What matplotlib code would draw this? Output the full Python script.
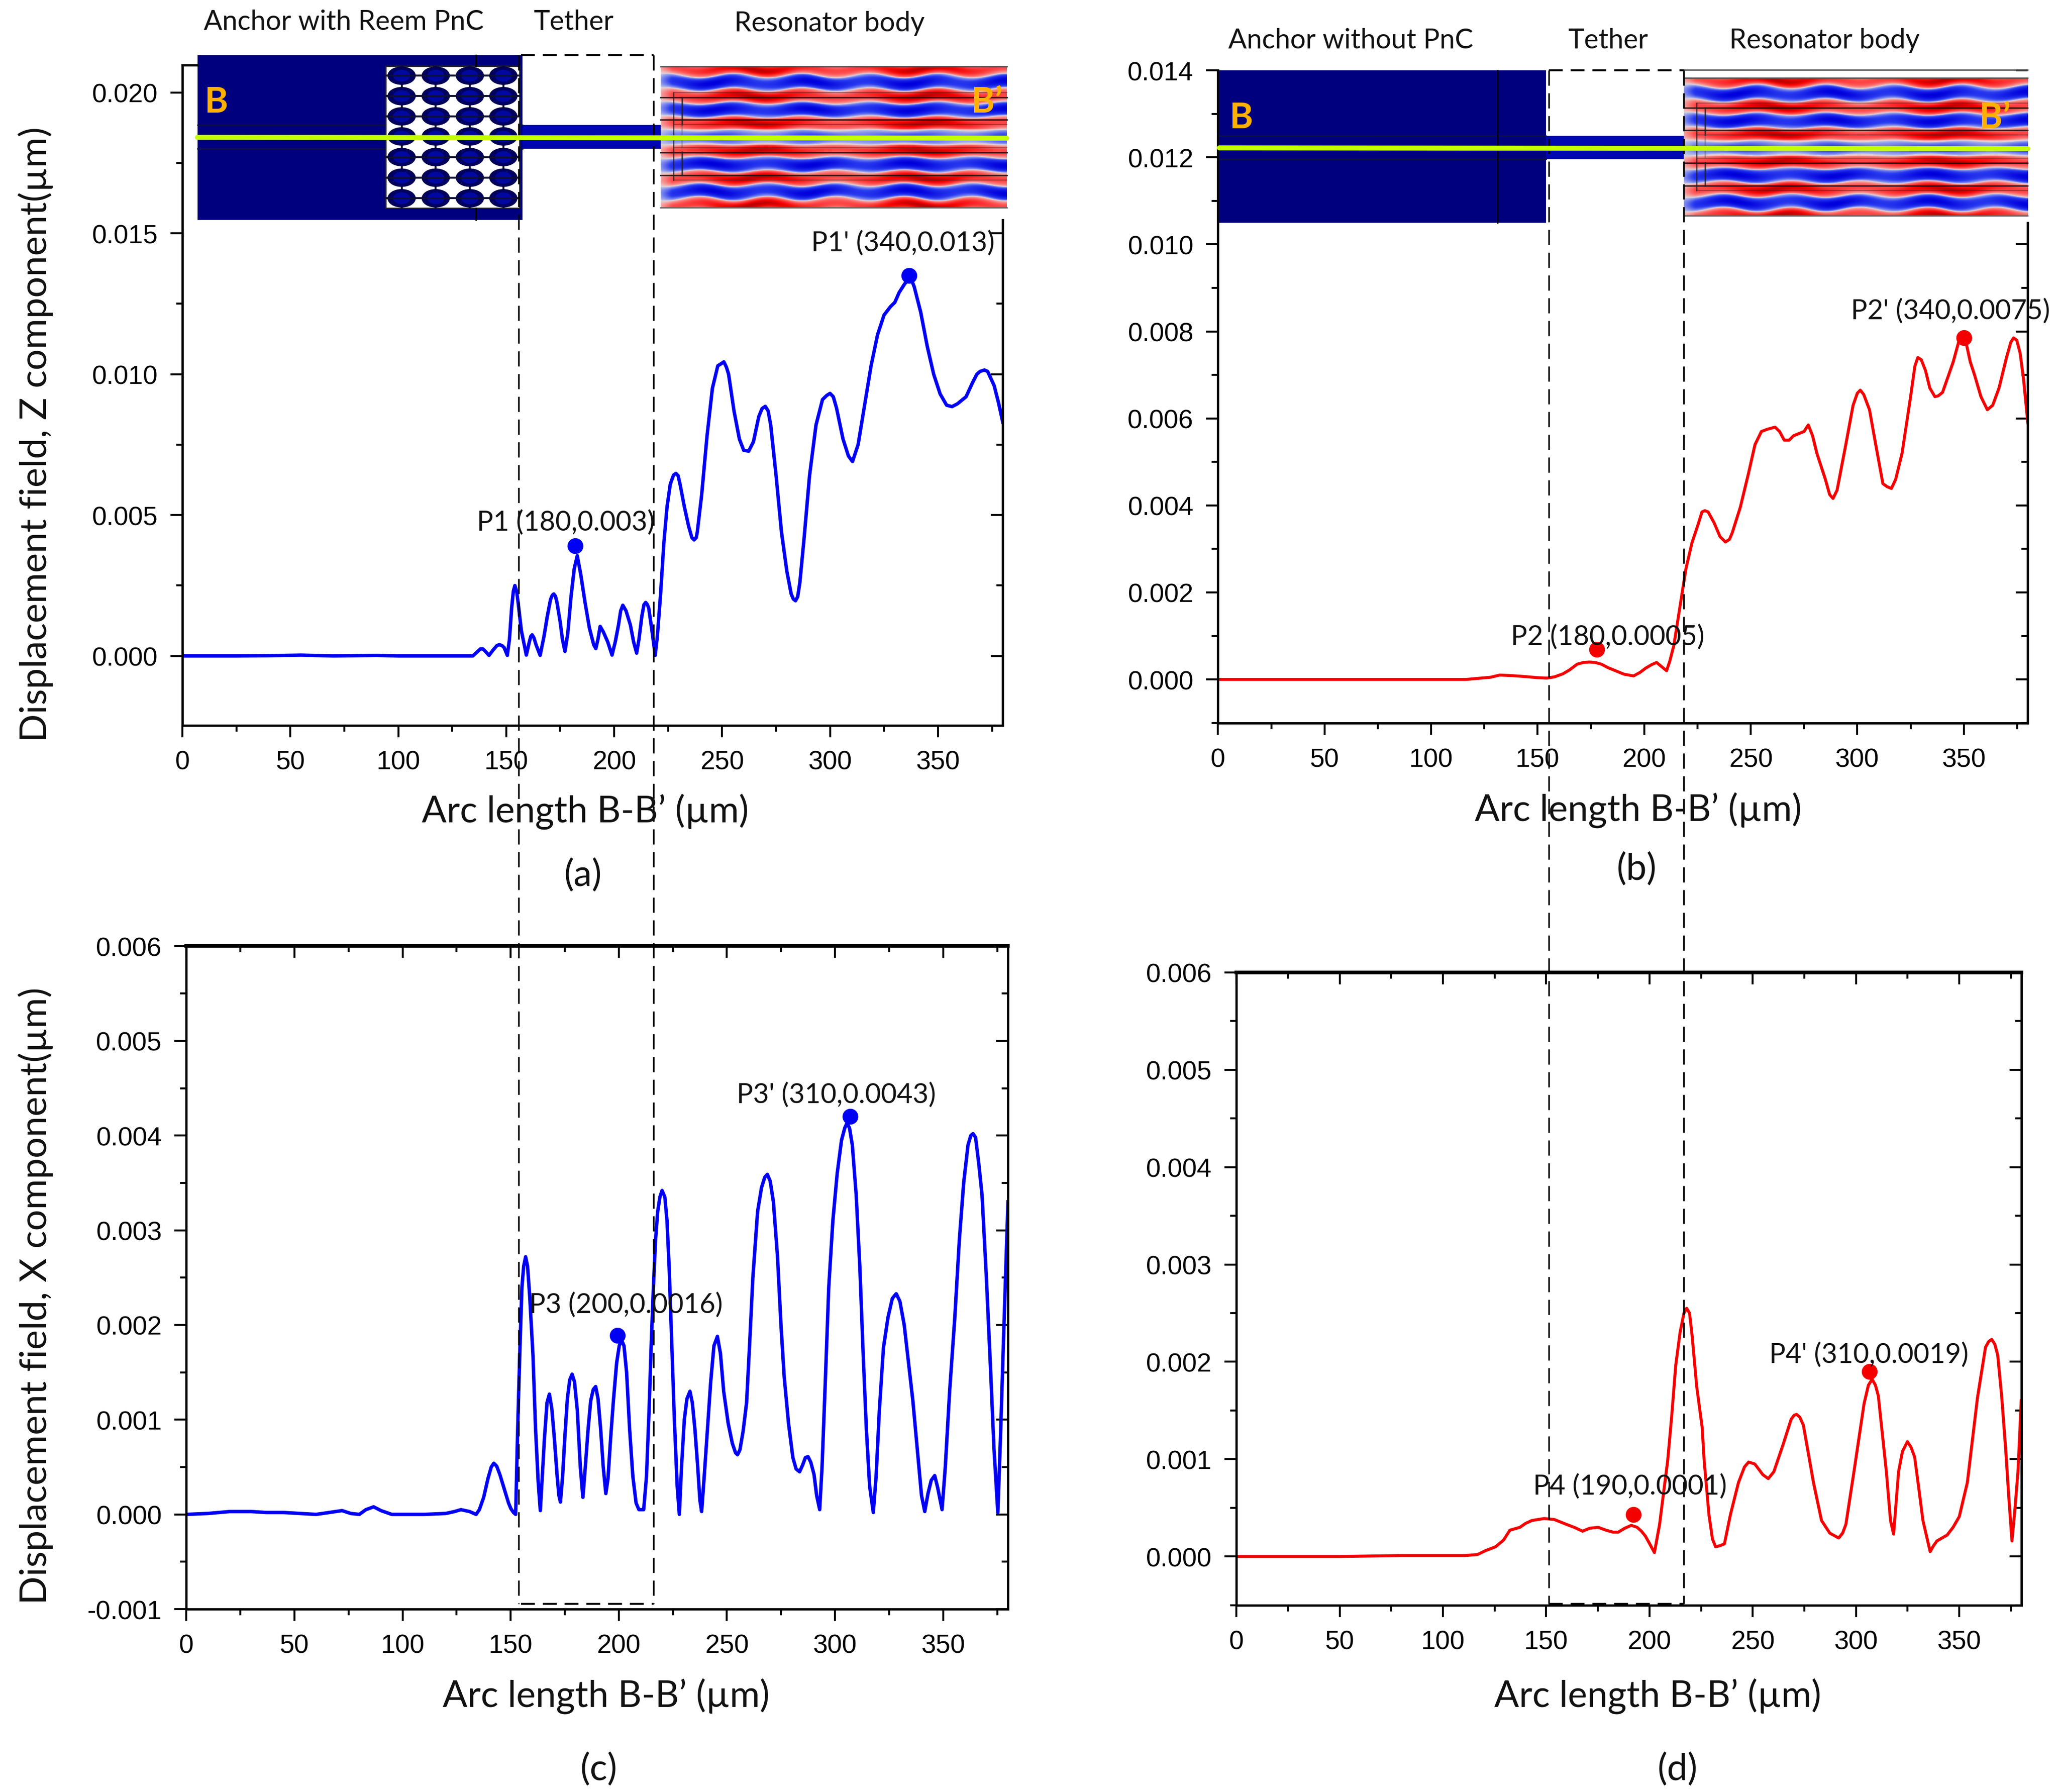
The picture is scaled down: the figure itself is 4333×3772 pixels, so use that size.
import numpy as np
import matplotlib
matplotlib.use("Agg")
import matplotlib.pyplot as plt
from matplotlib.colors import LinearSegmentedColormap
from matplotlib.patches import Ellipse, Rectangle
from matplotlib.ticker import MultipleLocator, FormatStrFormatter

# Panel (a) Z component, with PnC: (arc length, displacement)
curve_a = [(0, 0), (10, 0), (25, 0), (40, .00001), (55, .00003), (70, 0), (90, .00002), (100, 0), (120, 0), (134.5, 0),
           (136.5, .00014), (138, .00025), (139.2, .00025), (140.5, .00015), (142, .00002), (144, .00022), (145.7, .00037),
           (146.8, .0004), (148, .00037), (149, .0003), (150.5, .00002), (151.5, .0006), (152.5, .0017), (153.3, .0023),
           (154, .0025), (154.8, .0023), (155.5, .0019), (157, .0009), (159.3, .00003), (160.7, .0005), (161.4, .0007),
           (162, .00075), (162.8, .00065), (163.8, .0004), (165.7, .00002), (167.5, .0007), (169, .0014), (170.5, .0020),
           (171.3, .00215), (172, .0022), (172.8, .00212), (173.5, .0019), (175, .0012), (176, .0006), (177.2, .00016),
           (178.5, .0008), (180, .0021), (181.5, .0031), (182.9, .00356), (184.5, .0029), (186.5, .0019), (188.5, .0010),
           (190.5, .0004), (191.5, .00026), (192.5, .0006), (193.5, .00105), (195, .00085), (197, .0005), (199, .00003),
           (200.5, .0005), (202, .0011), (203, .0016), (204, .0018), (205.5, .0016), (207.5, .0011), (209, .0005),
           (210.4, .0001), (211.5, .0006), (212.8, .0014), (213.8, .00182), (214.6, .0019), (215.4, .00182), (216, .0017),
           (217.5, .0009), (219, .00002), (220, .0007), (221.5, .0022), (223, .0040), (224.5, .0053), (226, .0061),
           (227.5, .00642), (228.6, .00648), (229.6, .0064), (230.5, .0061), (232.5, .0053), (234.5, .0046), (236, .0042),
           (237, .00412), (238, .0042), (238.5, .0044), (240.5, .0057), (243, .0078), (245.5, .0095), (248, .0103),
           (249.5, .01037), (250.8, .01044), (252, .01025), (253, .0100), (255.5, .0087), (258, .0077), (260, .0073),
           (262.3, .00727), (264.5, .0076), (267, .0085), (268.5, .00878), (270, .00886), (271.3, .0087), (272.5, .0082),
           (275, .0064), (277.5, .0044), (280, .0030), (282, .0022), (283, .00202), (284, .00196), (285, .0021), (286, .0026),
           (288, .0042), (290.5, .0064), (293.5, .0082), (296.5, .0091), (298.5, .00925), (300, .00932), (301.5, .0092),
           (303, .0088), (306, .0077), (308.5, .0071), (310.4, .0069), (313, .0075), (316, .0089), (319, .0103), (322, .0114),
           (325, .0121), (328, .0124), (330, .01255), (332, .0129), (334.5, .0132), (336.6, .0134), (338, .0133), (339, .0131),
           (342, .0122), (345, .0110), (348, .0100), (351, .0093), (354, .0089), (356.5, .00885), (359, .00895), (363, .0092),
           (366, .0097), (368, .01), (369.5, .0101), (371.5, .01015), (373, .0101), (376, .0096), (378, .0090), (380, .0083)]

# Panel (b) Z component, without PnC
curve_b = [(0, 0), (50, 0), (100, 0), (116.5, 0), (127.9, .00005), (130.5, .00008), (132.2, .0001), (137, .00009), (143, .00007),
           (150, .00004), (154.3, .00003), (158, .00006), (161.9, .00013), (165, .00022), (168.5, .00035), (171.5, .00039),
           (174.2, .0004), (177, .00039), (179.9, .00035), (183, .00027), (186.5, .0002), (190.5, .00012), (195, .00008),
           (198, .00016), (200.7, .00026), (203.5, .00034), (205.8, .00039), (208, .0003), (210.5, .0002), (212, .00042),
           (213.9, .00078), (216.7, .00165), (219.6, .00255), (222.4, .00314), (225.2, .00355), (227.1, .00385), (228.5, .00388),
           (230, .00385), (232.8, .0036), (235.6, .00328), (238.1, .00316), (240, .00322), (241.3, .00337), (245.1, .00396),
           (248.9, .00473), (252, .0054), (255, .0057), (257.7, .00575), (261.4, .0058), (263.5, .0057), (265.7, .0055),
           (268, .0055), (270, .0056), (275, .0057), (277, .00585), (279, .0056), (281, .0052), (285, .0046), (287, .00425),
           (288.6, .00416), (290.5, .00435), (294.6, .0054), (298, .0063), (300, .00658), (301.4, .00665), (303, .00655),
           (305.7, .0062), (309, .0053), (312, .0045), (314, .00443), (316, .00439), (318, .0046), (321, .0052), (325, .0065),
           (327, .0072), (328.4, .0074), (330, .00735), (332, .0071), (334, .0067), (336.4, .0065), (338, .00652), (340, .0066),
           (345, .0073), (347.5, .00775), (349.3, .0079), (351, .00775), (353, .0073), (355, .0070), (358, .0065), (361, .0062),
           (363.5, .0063), (366.5, .0067), (370, .0074), (372, .00775), (373.3, .00785), (374.8, .0078), (376.4, .0075),
           (378, .0069), (380, .0059)]

# Panel (c) X component, with PnC
curve_c = [(0, 0), (10, .00001), (20, .00003), (30, .00003), (37, .00002), (45, .00002), (60, 0), (66, .00002), (72, .00004),
           (76, .00001), (80, 0), (83, .00005), (86.6, .00008), (90, .00004), (95, 0), (110, 0), (120, .00001), (124, .00003),
           (127, .00005), (131, .00003), (134, 0), (135.5, .00005), (137.5, .00018), (139.5, .00038), (141, .0005), (142.2, .00054),
           (143.5, .00051), (145, .00042), (147, .00027), (149, .00012), (150.1, .00006), (151.3, .00002), (152.3, 0), (153, .0007),
           (153.7, .0013), (154.4, .00185), (155.2, .0024), (156, .00262), (156.9, .00272), (157.8, .00262), (158.8, .0023),
           (160.3, .00168), (161.5, .0009), (162.7, .00035), (163.7, .00004), (164.6, .0004), (165.6, .0008), (166.8, .00118),
           (167.9, .00127), (169, .00112), (170.2, .0008), (171.5, .0004), (172.3, .0002), (173, .00013), (174, .0004), (175, .0008),
           (176.2, .00122), (177.3, .00142), (178.4, .00148), (179.5, .0014), (180.8, .0011), (182.2, .0005), (183.4, .00018),
           (184.5, .0005), (185.8, .0009), (187, .0012), (188.2, .00132), (189.3, .00135), (190.4, .00122), (191.6, .0009),
           (192.8, .0005), (194, .00022), (195, .00038), (196.2, .0008), (197.5, .0012), (199, .0016), (200.2, .00178), (201.3, .00184),
           (202.4, .00178), (203.6, .0015), (205, .0009), (206.5, .0004), (208, .00012), (209.3, .00005), (211.5, .00005), (212.8, .0004),
           (214, .0011), (215, .0018), (216, .0024), (217, .0029), (218, .0032), (219, .00335), (220, .00342), (221.3, .00335),
           (222.3, .0031), (223.3, .0026), (224.5, .0018), (225.7, .001), (227, .0003), (228, 0), (229, .0005), (230.3, .001),
           (231.5, .00122), (232.9, .0013), (234, .00118), (235.2, .0009), (236.5, .0005), (237.5, .00015), (238.3, .00003),
           (239.5, .0004), (241, .0009), (242.5, .0014), (244, .00178), (245.6, .00188), (247, .0017), (248.5, .0013), (250.6, .00096),
           (252.5, .00075), (254, .00065), (254.9, .00063), (256, .00068), (257.5, .00088), (259.1, .00118), (260.5, .0018), (262, .0025),
           (264.2, .0032), (266, .00345), (267.5, .00356), (268.7, .00359), (270, .00352), (271.5, .0033), (273.4, .00272), (275, .002),
           (276.5, .00145), (278.5, .00096), (280.5, .0006), (282, .00048), (283.6, .00045), (285, .00052), (286.3, .0006), (287.5, .00061),
           (288.8, .00055), (290.3, .00042), (291.5, .0002), (292.9, .00005), (294, .0005), (295.5, .0014), (297.1, .0024), (299, .0031),
           (301, .0036), (303, .00395), (304.5, .00408), (305.5, .00413), (306.7, .00408), (308, .0039), (309.8, .00337), (311.5, .0026),
           (313, .0017), (314.5, .0009), (316, .0003), (317.7, .00002), (319, .0004), (320.5, .0011), (322.4, .00176), (324.5, .00208),
           (326.5, .00228), (328.3, .00233), (330, .00225), (332, .002), (334, .0016), (336, .0012), (338, .0007), (340, .0002),
           (341.5, .00003), (343, .00022), (344.5, .00036), (346.1, .00041), (347.5, .00028), (349.5, .00005), (351, .0005), (353, .0013),
           (355.4, .00208), (357.5, .0029), (359.5, .0035), (361.5, .0039), (362.8, .004), (363.8, .00402), (365, .00398), (366.5, .0037),
           (368, .00337), (370, .0025), (372, .0015), (373.5, .0007), (375.3, .00002), (376.5, .0008), (378, .0019), (380, .0033)]

# Panel (d) X component, without PnC
curve_d = [(0, 0), (50, 0), (80, .00001), (100, .00001), (110.8, .00001), (116.7, .00002), (120.6, .00006), (125.5, .0001),
           (129.4, .00017), (132.4, .00027), (137.3, .0003), (140, .00034), (143.1, .00037), (149, .00039), (153.9, .00038),
           (159.8, .00033), (163.5, .0003), (167.6, .00026), (171, .00029), (175.1, .0003), (179, .00027), (182.4, .00025),
           (184.9, .00025), (188, .00029), (191.2, .00032), (194, .0003), (196.1, .00026), (198, .00021), (199.6, .00015),
           (202.4, .00004), (204.9, .00033), (206.8, .00065), (208.8, .00098), (210.8, .00145), (212.7, .00196), (214.8, .0023),
           (216.7, .0025), (218, .00255), (219.4, .0025), (220.6, .00228), (222.9, .00174), (225.5, .00133), (226.5, .00098),
           (228.8, .00043), (230.5, .00018), (232, .0001), (234, .00011), (236.3, .00013), (239.2, .00043), (243.1, .00076),
           (246, .00092), (248, .00097), (251, .00095), (254.9, .00084), (257.5, .0008), (260.2, .00087), (264.7, .00115),
           (268.6, .00141), (270, .00145), (271.2, .00146), (272.8, .00143), (274.5, .00135), (277, .00105), (279.4, .00076),
           (283.3, .00037), (287.3, .00024), (291.6, .00019), (293.5, .00024), (295.1, .00033), (299, .00087), (303.9, .00157),
           (306, .00176), (307.8, .00182), (309.4, .00176), (310.8, .00165), (312.8, .00125), (314.7, .00087), (316.7, .00037),
           (318.2, .00023), (319.4, .00055), (320.6, .00087), (322.5, .00108), (324.9, .00118), (326.7, .00112), (328.4, .00102),
           (330.4, .0007), (332.4, .00037), (335.9, .00005), (337.5, .00011), (339.2, .00016), (344.1, .00022), (347, .0003),
           (350, .00041), (353.9, .00076), (358.8, .00163), (362.7, .00215), (364.3, .00221), (365.7, .00223), (367.2, .00218),
           (368.6, .00207), (370.5, .00165), (372.5, .00109), (374, .0006), (375.5, .00016), (377, .0005), (378.4, .00087), (380, .0016)]

# highlighted points and their labels
points_a = [(182, .0039), (336.6, .0135)]
points_b = [(177.7, .00069), (350, .00785)]
points_c = [(199.4, .00189), (307, .0042)]
points_d = [(192.3, .00043), (306.4, .0019)]
xlabel = "Arc length B-B’ (µm)"
ylabel_z = "Displacement field, Z component(µm)"
ylabel_x = "Displacement field, X component(µm)"

W, H = 1568.0, 1365.3
plt.rcParams['font.family'] = ['Liberation Sans', 'DejaVu Sans']
BLUE, RED = '#0000f5', '#f50000'
fig = plt.figure(figsize=(43.33, 37.73), dpi=100, facecolor='white')


def add_panel(l, r, t, b, curve, pts, color, ylim, major, minor, lw, top_ticks=False):
    x, y = zip(*curve)
    ax = fig.add_axes([l / W, 1 - b / H, (r - l) / W, (b - t) / H])
    ax.plot(x, y, color=color, lw=lw, solid_joinstyle='round')
    ax.plot([p[0] for p in pts], [p[1] for p in pts], 'o', color=color, ms=24, mew=0)
    ax.set_xlim(0, 380)
    ax.set_ylim(*ylim)
    ax.xaxis.set_major_locator(MultipleLocator(50))
    ax.xaxis.set_minor_locator(MultipleLocator(25))
    ax.yaxis.set_major_locator(MultipleLocator(major))
    ax.yaxis.set_minor_locator(MultipleLocator(minor))
    ax.yaxis.set_major_formatter(FormatStrFormatter('%.3f'))
    ax.tick_params(axis='both', which='major', length=18, width=3, labelsize=40, pad=19)
    ax.tick_params(axis='both', which='minor', length=9.5, width=3)
    for s in ax.spines.values():
        s.set_linewidth(3.5)
    # mirrored ticks on the right pointing inwards, like Origin does
    sec = ax.secondary_yaxis('right')
    sec.yaxis.set_major_locator(MultipleLocator(major))
    sec.yaxis.set_minor_locator(MultipleLocator(minor))
    sec.tick_params(axis='y', which='major', direction='in', length=18, width=3, labelright=False)
    sec.tick_params(axis='y', which='minor', direction='in', length=9.5, width=3)
    sec.spines['right'].set_visible(False)
    if top_ticks:
        sect = ax.secondary_xaxis('top')
        sect.xaxis.set_major_locator(MultipleLocator(50))
        sect.xaxis.set_minor_locator(MultipleLocator(25))
        sect.tick_params(axis='x', which='major', direction='in', length=18, width=3, labeltop=False)
        sect.tick_params(axis='x', which='minor', direction='in', length=9.5, width=3)
        sect.spines['top'].set_visible(False)
        ax.spines['top'].set_linewidth(5.5)
    return ax


ax_a = add_panel(139, 764, 50, 553, curve_a, points_a, BLUE, (-.00247, .02097), .005, .0025, 5.2)
ax_b = add_panel(928, 1545, 54, 551, curve_b, points_b, RED, (-.001, .014), .002, .001, 4.5)
ax_c = add_panel(142, 768, 721, 1226, curve_c, points_c, BLUE, (-.001, .006), .001, .0005, 5.2, top_ticks=True)
ax_d = add_panel(942, 1540, 741, 1223, curve_d, points_d, RED, (-.0005, .006), .001, .0005, 4.5, top_ticks=True)

ax_a.spines['top'].set_visible(False)
ax_b.spines['top'].set_visible(False)
ax_a.spines['right'].set_bounds(-.00247, .01548)
ax_b.spines['right'].set_bounds(-.001, .0105)

# overlay in picture coordinates for insets, dashed guides and captions
ov = fig.add_axes([0, 0, 1, 1], zorder=10)
ov.patch.set_alpha(0)
ov.axis('off')

field_cmap = LinearSegmentedColormap.from_list('field', [
    (0, '#0000dc'), (.22, '#2a3cf0'), (.42, '#a8b0ea'), (.5, '#dcd8dc'), (.58, '#eec0c0'), (.75, '#ff5a5a'), (.92, '#f50505'),
    (1, '#b00000')])


def resonator(x0, x1, y0, y1, yc):
    # illustration of the mode shape from the FEM picture
    px = np.linspace(x0, x1, 500)
    py = np.linspace(y0, y1, 260)
    X, Y = np.meshgrid(px, py)
    dy = np.abs(Y - yc)
    d = dy + (.5 + 1.3 * dy / 50) * np.sin(2 * np.pi * X / 52)
    f = -np.cos(2 * np.pi * d / 20.8)
    f = np.sign(f) * np.abs(f) ** .6
    blob = .58 + .38 * np.cos(np.pi * (X - x0 - 72) / 128) ** 2
    f = np.where(f > 0, f * blob, f * (.62 + .38 * np.cos(np.pi * (X - x0 - 40) / 75) ** 2))
    f = f * np.clip(.45 + (X - x0) / 16, 0, 1)
    f = np.where(dy < 6, f * .55, f)
    ov.imshow(f, extent=(x0, x1, y1, y0), cmap=field_cmap, vmin=-1, vmax=1, aspect='auto', zorder=2)
    # black mesh lines of the electrodes
    for yy in (-30.5, -13.4, 11.6, 29):
        ov.plot([x0, x1], [yc + yy, yc + yy], color='#181010', lw=2.2, alpha=.85, zorder=3)
    for yy in (-34, -9.8, 8, 32.6):
        ov.plot([x0 + 10, x1], [yc + yy, yc + yy], color='#402020', lw=1.5, alpha=.45, zorder=3)
    ov.plot([x0 + 9.5, x0 + 9.5], [yc - 34, yc + 32.6], color='#202020', lw=1.8, alpha=.8, zorder=3)
    ov.plot([x0 + 16, x0 + 16], [yc - 30.5, yc - 10], color='#202020', lw=2.4, alpha=.8, zorder=3)
    ov.plot([x0 + 16, x0 + 16], [yc + 11, yc + 29], color='#202020', lw=2.4, alpha=.8, zorder=3)
    ov.plot([x0 + 16, x0 + 16], [yc - 10, yc + 8], color='#505050', lw=1.5, alpha=.6, zorder=3)
    ov.plot([x0, x1], [y0, y0], color='#555555', lw=2, zorder=3)
    ov.plot([x0, x1], [y1, y1], color='#666666', lw=2, zorder=3)


NAVY = '#00007f'


def inset(x0, x1, y0, y1, t0, t1, r0, r1, ry0, ry1, lnY, bx, bpx, by):
    ov.add_patch(Rectangle((x0, y0), x1 - x0, y1 - y0, fc=NAVY, ec='none', zorder=1))
    ov.add_patch(Rectangle((t0, lnY - 9.3), t1 - t0, 18, fc='#0006b0', ec='none', zorder=1))
    ov.plot([x0, t0], [lnY - 9.3, lnY - 9.3], color='#101040', lw=2, zorder=2)
    ov.plot([x0, t0], [lnY + 8.5, lnY + 8.5], color='#101040', lw=2, zorder=2)
    resonator(r0, r1, ry0, ry1, lnY)
    ov.plot([x0, r1], [lnY, lnY + .6], color='#c4ff00', lw=7.5, solid_capstyle='round', zorder=6)
    ov.text(bx, by, 'B', color='#ffb000', fontsize=54, fontweight='bold', family='Lato', ha='center', va='center', zorder=7)
    ov.text(bpx, by, 'B’', color='#ffb000', fontsize=54, fontweight='bold', family='Lato', ha='center', va='center', zorder=7)


inset(150.4, 398, 42.5, 168, 398, 503.5, 503.5, 767, 51, 158.6, 105, 165, 752, 78)
inset(929, 1178, 54, 170, 1178, 1283, 1283, 1545, 59.7, 164.5, 113, 946, 1520, 90)
ov.plot([1141, 1141], [54, 170], color='k', lw=2, zorder=3)
ov.plot([1283, 1545], [53.5, 53.5], color='#555555', lw=2, zorder=3)
ov.plot([139, 150], [50, 50], color='k', lw=3.5, zorder=3)

# phononic crystal block of panel (a)
ov.add_patch(Rectangle((294, 50.7), 102, 108.3, fc='white', ec='#202020', lw=2, zorder=3))
ov.plot([362.7, 362.7], [42.5, 50.7], color='k', lw=2, zorder=3)
ov.plot([362.7, 362.7], [159, 168], color='k', lw=2, zorder=3)
cols = [306, 332, 358, 383.5]
rows = [58, 73.6, 89, 104.3, 120, 135.7, 151.4]
for cy in rows:
    ov.plot([294, 396], [cy, cy], color='#101030', lw=3, zorder=4)
for cx in cols:
    ov.plot([cx, cx], [50.7, 159], color='#101030', lw=3, zorder=4)
    for cy in rows:
        ov.add_patch(Ellipse((cx, cy), 21, 13.5, fc='#000060', ec='#000040', lw=1, zorder=4))
        ov.add_patch(Ellipse((cx, cy), 13, 9, fc='#0008a0', ec='none', zorder=4))
    for cy in rows:
        ov.plot([cx - 10, cx + 10], [cy, cy], color='#101030', lw=2.5, zorder=4)

# dashed guides running through the panels
dash = (0, (9.2, 4.6))
for xx, y0, y1 in [(395, 42.5, 1222), (498, 42.5, 1222), (1180, 54, 1222), (1283, 54, 1222)]:
    ov.plot([xx, xx], [y0, y1], color='k', lw=2.5, ls=dash, zorder=5)
for x0, x1, yy in [(397, 498, 42.5), (1180, 1283, 54), (397, 498, 1222), (1180, 1283, 1222)]:
    ov.plot([x0, x1], [yy, yy], color='k', lw=3, ls=(0, (7, 4)), zorder=5)

calibri = dict(family='Lato', ha='center', va='center', color='#111111', zorder=8)
for txt, tx, ty in [("Anchor with Reem PnC", 262, 17), ("Tether", 437, 17), ("Resonator body", 632, 18),
                    ("Anchor without PnC", 1029, 31), ("Tether", 1225, 31), ("Resonator body", 1390, 31)]:
    ov.text(tx, ty, txt, fontsize=41.5, **calibri)
for txt, tx, ty in [("P1 (180,0.003)", 431, 398), ("P1' (340,0.013)", 688, 185), ("P2 (180,0.0005)", 1225, 485),
                    ("P2' (340,0.0075)", 1486, 237), ("P3 (200,0.0016)", 477, 994), ("P3' (310,0.0043)", 637, 834),
                    ("P4 (190,0.0001)", 1242, 1132), ("P4' (310,0.0019)", 1424, 1032)]:
    ov.text(tx, ty, txt, fontsize=41.5, **calibri)
for tx, ty in [(446, 618), (1248, 617), (462, 1292), (1263, 1292)]:
    ov.text(tx, ty, xlabel, fontsize=55.5, **calibri)
for txt, tx, ty in [("(a)", 444, 667), ("(b)", 1247, 662), ("(c)", 456, 1348), ("(d)", 1278, 1348)]:
    ov.text(tx, ty, txt, fontsize=55.5, **calibri)
ov.text(27, 331, ylabel_z, fontsize=56.5, rotation=90, **calibri)
ov.text(27, 987, ylabel_x, fontsize=56.5, rotation=90, **calibri)

ov.set_xlim(0, W)
ov.set_ylim(H, 0)

fig.savefig('out.png', dpi=100)
